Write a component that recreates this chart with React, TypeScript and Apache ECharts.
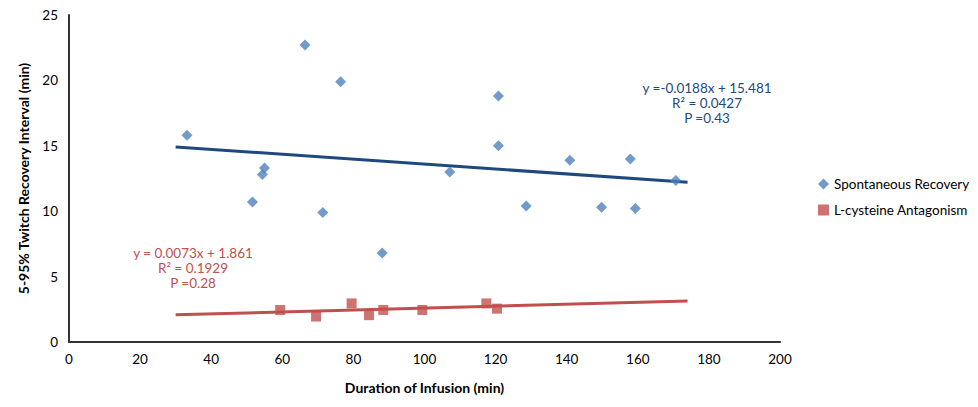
import React, { useEffect, useRef } from "react";
import * as echarts from "echarts";

const spontaneousX = [33.2, 66.4, 76.4, 55.0, 54.4, 51.6, 71.4, 88.1, 107.1, 120.8, 120.8, 128.6, 140.9, 149.8, 157.9, 159.3, 170.7];
const spontaneousY = [15.8, 22.7, 19.9, 13.3, 12.8, 10.7, 9.9, 6.8, 13.0, 18.8, 15.0, 10.4, 13.9, 10.3, 14.0, 10.2, 12.35];
const cysteineX = [59.4, 69.5, 79.5, 84.4, 88.4, 99.4, 117.4, 120.4];
const cysteineY = [2.45, 1.95, 2.95, 2.05, 2.45, 2.45, 2.95, 2.55];

const spontSlope = -0.0188;
const spontIntercept = 15.481;
const cystSlope = 0.0073;
const cystIntercept = 1.861;
const trendRange = [30, 174];

const spontLabels = ["y =-0.0188x + 15.481", "R² = 0.0427", "P =0.43"];
const cystLabels = ["y = 0.0073x + 1.861", "R² = 0.1929", "P =0.28"];

const FONT = "Lato, 'Open Sans', sans-serif";
const OFF = 8;

export default function App() {
  const ref = useRef<HTMLDivElement>(null);
  useEffect(() => {
    if (!ref.current) return;
    const chart = echarts.init(ref.current, null, { renderer: "svg" });
    const blue = "#4F81BD";
    const red = "#C0504D";
    const blueDark = "#1F497D";
    chart.setOption({
      animation: false,
      textStyle: { fontFamily: FONT },
      grid: { left: 63 - OFF, top: 14 - OFF, right: 190, bottom: 40, containLabel: false },
      legend: {
        orient: "vertical",
        left: 813 - OFF,
        top: 172 - OFF,
        itemGap: 12,
        itemWidth: 11,
        itemHeight: 11,
        textStyle: { fontSize: 13.5, color: "#000", fontFamily: FONT },
        data: [
          { name: "Spontaneous Recovery", icon: "diamond" },
          { name: "L-cysteine Antagonism", icon: "rect" },
        ],
      },
      xAxis: {
        type: "value",
        min: 0,
        max: 200,
        interval: 20,
        name: "Duration of Infusion (min)",
        nameLocation: "middle",
        nameGap: 38,
        nameTextStyle: { fontWeight: "bold", fontSize: 14, color: "#000", fontFamily: FONT },
        axisLine: { show: true, lineStyle: { color: "#333", width: 2 } },
        axisTick: { show: false },
        splitLine: { show: false },
        axisLabel: { fontSize: 13.5, color: "#000", margin: 10, fontFamily: FONT },
      },
      yAxis: {
        type: "value",
        min: 0,
        max: 25,
        interval: 5,
        name: "5-95% Twitch Recovery Interval (min)",
        nameLocation: "middle",
        nameGap: 39,
        nameRotate: 90,
        nameTextStyle: { fontWeight: "bold", fontSize: 14, color: "#000", fontFamily: FONT },
        axisLine: { show: true, lineStyle: { color: "#333", width: 2 } },
        axisTick: { show: false },
        splitLine: { show: false },
        axisLabel: { fontSize: 13.5, color: "#000", margin: 11, fontFamily: FONT },
      },
      series: [
        {
          name: "Spontaneous Recovery trend",
          type: "line",
          data: trendRange.map((x) => [x, spontSlope * x + spontIntercept]),
          symbol: "none",
          lineStyle: { color: blueDark, width: 3 },
          z: 1,
        },
        {
          name: "L-cysteine Antagonism trend",
          type: "line",
          data: trendRange.map((x) => [x, cystSlope * x + cystIntercept]),
          symbol: "none",
          lineStyle: { color: red, width: 3 },
          z: 1,
        },
        {
          name: "Spontaneous Recovery",
          type: "scatter",
          symbol: "diamond",
          symbolSize: 11,
          itemStyle: { color: blue },
          data: spontaneousX.map((x, i) => [x, spontaneousY[i]]),
          z: 3,
        },
        {
          name: "L-cysteine Antagonism",
          type: "scatter",
          symbol: "rect",
          symbolSize: 10,
          itemStyle: { color: red },
          data: cysteineX.map((x, i) => [x, cysteineY[i]]),
          z: 3,
        },
      ],
      graphic: [
        ...spontLabels.map((t, i) => ({
          type: "text",
          x: 707 - OFF,
          y: 88 - OFF + i * 15,
          style: { text: t, fill: blueDark, font: `13.5px ${FONT}`, align: "center", verticalAlign: "middle" },
        })),
        ...cystLabels.map((t, i) => ({
          type: "text",
          x: 193 - OFF,
          y: 253 - OFF + i * 15,
          style: { text: t, fill: red, font: `13.5px ${FONT}`, align: "center", verticalAlign: "middle" },
        })),
      ],
    });
    return () => chart.dispose();
  }, []);
  return <div ref={ref} style={{ width: 962, height: 391 }} />;
}
